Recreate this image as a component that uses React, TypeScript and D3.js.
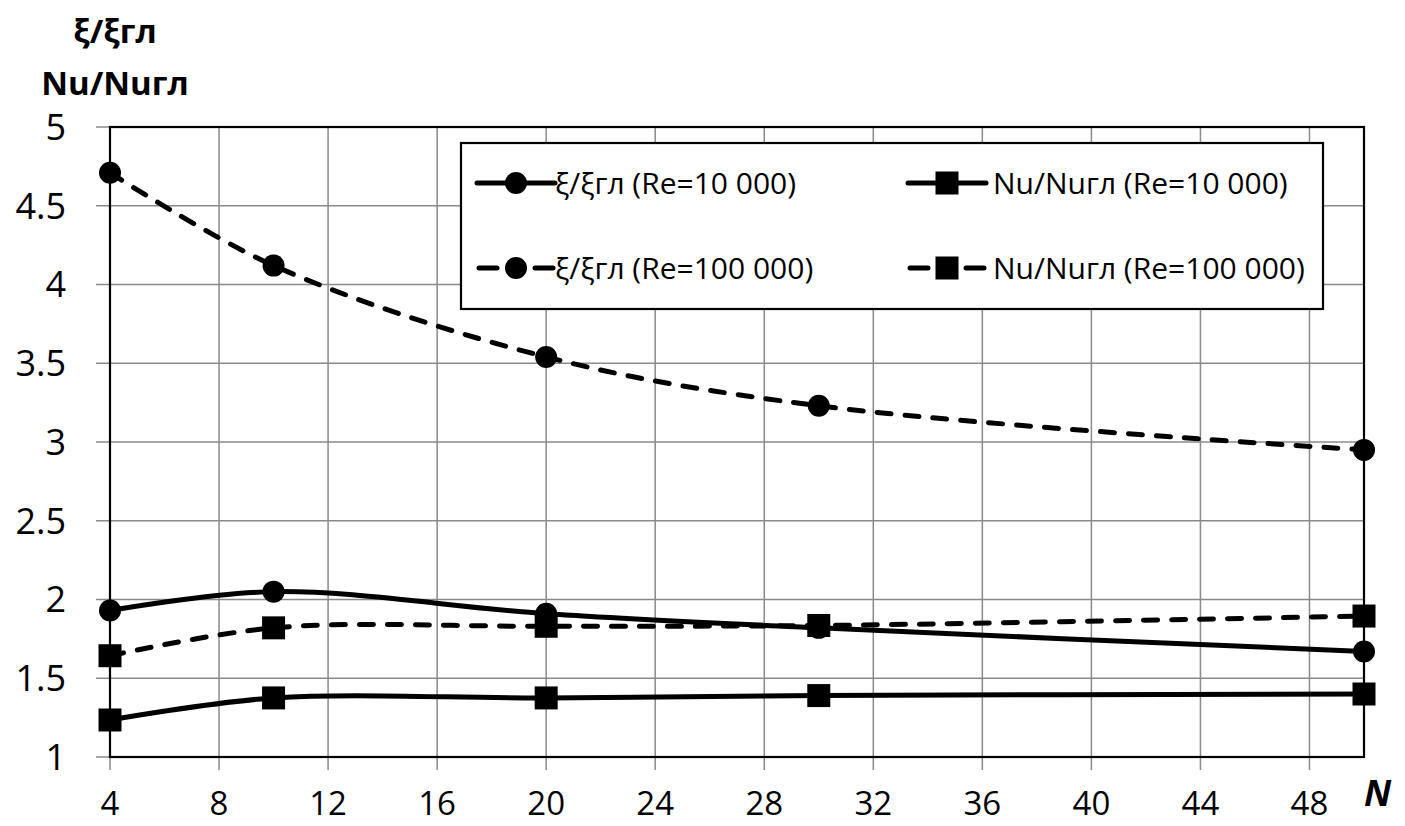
import React from "react";
import * as d3 from "d3";

const nValues = [4, 10, 20, 30, 50];
const xiRe10k = [1.93, 2.05, 1.91, 1.82, 1.67];
const xiRe100k = [4.71, 4.12, 3.54, 3.23, 2.95];
const nuRe10k = [1.235, 1.375, 1.375, 1.39, 1.40];
const nuRe100k = [1.643, 1.82, 1.83, 1.835, 1.895];
const xTicks = [4, 8, 12, 16, 20, 24, 28, 32, 36, 40, 44, 48];
const yTicks = [1, 1.5, 2, 2.5, 3, 3.5, 4, 4.5, 5];
const legendLabels = [
  "ξ/ξгл (Re=10 000)",
  "Nu/Nuгл (Re=10 000)",
  "ξ/ξгл (Re=100 000)",
  "Nu/Nuгл (Re=100 000)",
];

type Series = { values: number[]; dashed: boolean; marker: "circle" | "square"; label: string };
const series: Series[] = [
  { values: xiRe100k, dashed: true, marker: "circle", label: legendLabels[2] },
  { values: xiRe10k, dashed: false, marker: "circle", label: legendLabels[0] },
  { values: nuRe100k, dashed: true, marker: "square", label: legendLabels[3] },
  { values: nuRe10k, dashed: false, marker: "square", label: legendLabels[1] },
];

const W = 1405;
const H = 826;
const L = 110, R = 1364, T = 127, B = 757;
const FONT = "'Open Sans', 'Noto Sans', sans-serif";
const DASH = "14 14";

function Marker({ kind, x, y }: { kind: string; x: number; y: number }) {
  if (kind === "circle") return <circle cx={x} cy={y} r={11} fill="#000" />;
  return <rect x={x - 11.5} y={y - 11.5} width={23} height={23} fill="#000" />;
}

export default function App() {
  const x = d3.scaleLinear().domain([4, 50]).range([L, R]);
  const y = d3.scaleLinear().domain([1, 5]).range([B, T]);
  const line = d3
    .line<number>()
    .x((_, i) => x(nValues[i]))
    .y((d) => y(d))
    .curve(d3.curveCatmullRom.alpha(0.5));

  const legendItems = [
    { label: legendLabels[0], dashed: false, marker: "circle", lx: 477, ly: 183, tx: 555 },
    { label: legendLabels[1], dashed: false, marker: "square", lx: 908, ly: 183, tx: 993 },
    { label: legendLabels[2], dashed: true, marker: "circle", lx: 477, ly: 268, tx: 555 },
    { label: legendLabels[3], dashed: true, marker: "square", lx: 908, ly: 268, tx: 993 },
  ];

  return (
    <svg width={W} height={H} style={{ display: "block", position: "absolute", left: 0, top: 0 }}>
      <rect width={W} height={H} fill="#fff" />
      {/* grid */}
      {yTicks.map((t) => (
        <line key={"gy" + t} x1={96} x2={R} y1={y(t)} y2={y(t)} stroke="#8a8a8a" strokeWidth={1.5} />
      ))}
      {xTicks.map((t) => (
        <line key={"gx" + t} x1={x(t)} x2={x(t)} y1={T} y2={770} stroke="#8a8a8a" strokeWidth={1.5} />
      ))}
      {/* frame */}
      <rect x={L} y={T} width={R - L} height={B - T} fill="none" stroke="#000" strokeWidth={2.2} />
      {/* y tick labels */}
      {yTicks.map((t) => (
        <text key={"ly" + t} x={66} y={y(t)} dy="0.36em" textAnchor="end" fontFamily={FONT} fontSize={36} fill="#000">
          {String(t)}
        </text>
      ))}
      {xTicks.map((t) => (
        <text key={"lx" + t} x={x(t)} y={815} textAnchor="middle" fontFamily={FONT} fontSize={33} fill="#000">
          {String(t)}
        </text>
      ))}
      {/* titles */}
      <text x={115} y={43} textAnchor="middle" fontFamily={FONT} fontWeight="bold" fontSize={33} fill="#000">
        ξ/ξгл
      </text>
      <text x={115} y={95} textAnchor="middle" fontFamily={FONT} fontWeight="bold" fontSize={33} fill="#000">
        Nu/Nuгл
      </text>
      <text x={1364} y={806} fontFamily={FONT} fontWeight="bold" fontStyle="italic" fontSize={36} fill="#000">
        N
      </text>
      {/* series */}
      {series.map((s, si) => (
        <g key={"s" + si}>
          <path
            d={line(s.values) || ""}
            fill="none"
            stroke="#000"
            strokeWidth={5}
            strokeDasharray={s.dashed ? DASH : undefined}
            strokeLinecap="round"
          />
          {s.values.map((v, i) => (
            <Marker key={i} kind={s.marker} x={x(nValues[i])} y={y(v)} />
          ))}
        </g>
      ))}
      {/* legend */}
      <rect x={461} y={143} width={862} height={166} fill="#fff" stroke="#000" strokeWidth={2.2} />
      {legendItems.map((it, i) => (
        <g key={"lg" + i}>
          {it.dashed ? (
            <g>
              <line x1={it.lx + 2} x2={it.lx + 20} y1={it.ly} y2={it.ly} stroke="#000" strokeWidth={5} strokeLinecap="round" />
              <line x1={it.lx + 58} x2={it.lx + 76} y1={it.ly} y2={it.ly} stroke="#000" strokeWidth={5} strokeLinecap="round" />
            </g>
          ) : (
            <line x1={it.lx} x2={it.lx + 78} y1={it.ly} y2={it.ly} stroke="#000" strokeWidth={5} strokeLinecap="round" />
          )}
          <Marker kind={it.marker} x={it.lx + 39} y={it.ly} />
          <text x={it.tx} y={it.ly} dy="0.36em" fontFamily={FONT} fontSize={30} fill="#000">
            {it.label}
          </text>
        </g>
      ))}
    </svg>
  );
}
